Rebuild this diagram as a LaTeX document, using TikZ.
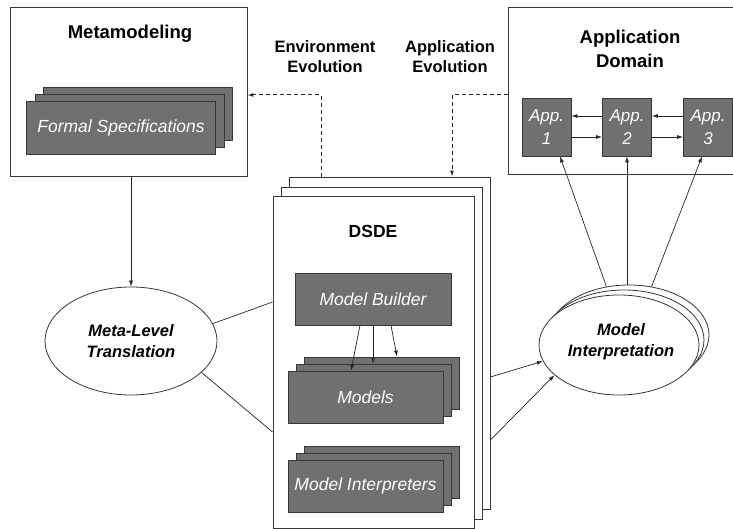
\documentclass[tikz,border=0pt]{standalone}
\usepackage{fontspec}
\setmainfont{Liberation Sans}
\usetikzlibrary{arrows.meta,shapes.geometric,calc}
\definecolor{boxgray}{RGB}{112,112,112}
\definecolor{linegray}{RGB}{55,55,55}
\begin{document}
\begin{tikzpicture}[x=1pt,y=-1pt,
  frame/.style={draw=linegray, line width=0.9pt, fill=white, inner sep=0pt},
  gbox/.style={draw=linegray, line width=0.8pt, fill=boxgray, inner sep=0pt, text=white,
    font=\fontsize{17.5}{21}\selectfont\itshape, align=center},
  appbox/.style={gbox, minimum width=49pt, minimum height=58pt, font=\fontsize{17}{23}\selectfont\itshape},
  title/.style={font=\fontsize{18.5}{24}\selectfont\bfseries, align=center, inner sep=0pt},
  evo/.style={font=\fontsize{16.5}{20}\selectfont\bfseries, align=center, inner sep=0pt},
  oval/.style={ellipse, draw=linegray, line width=0.8pt, fill=white, inner sep=0pt},
  ovaltext/.style={font=\fontsize{16.5}{21}\selectfont\bfseries\itshape, align=center, inner sep=0pt},
  conn/.style={draw=black!85, line width=0.7pt},
  arr/.style={conn, -{Latex[length=6pt,width=4pt]}},
  dasharr/.style={arr, dash pattern=on 4pt off 3pt, line width=1pt}
]
\useasboundingbox (0,0) rectangle (733,529);

% ---------------- Metamodeling ----------------
\node[frame, minimum width=237pt, minimum height=169pt] (meta) at (128.5,91.5) {};
\node[title] (metat) at (130,33.5) {Metamodeling};
\node[gbox, minimum width=189pt, minimum height=53pt] (fs3) at (138,114) {};
\node[gbox, minimum width=189pt, minimum height=53pt] (fs2) at (130,121) {};
\node[gbox, minimum width=189pt, minimum height=53pt] (fs1) at (121,128) {Formal Specifications};

% ---------------- Application Domain ----------------
\node[frame, minimum width=228pt, minimum height=167pt] (ad) at (622,90.5) {};
\node[title] (adt) at (630,49) {Application\\Domain};
\node[appbox] (app1) at (546.5,127) {App.\\1};
\node[appbox] (app2) at (627,127) {App.\\2};
\node[appbox] (app3) at (708,127) {App.\\3};

% ---------------- Evolution labels ----------------
\node[evo] (envevo) at (325,57) {Environment\\Evolution};
\node[evo] (appevo) at (450,57) {Application\\Evolution};

% ---------------- DSDE ----------------
\node[frame, minimum width=201pt, minimum height=332pt] (ds3) at (389.5,343) {};
\node[frame, minimum width=201pt, minimum height=332pt] (ds2) at (381.5,353) {};
\node[frame, minimum width=201pt, minimum height=332pt] (ds1) at (373.5,362) {};
\node[font=\fontsize{17.5}{21}\selectfont\bfseries, inner sep=0pt] (dsdet) at (373,231) {DSDE};

\node[gbox, minimum width=156pt, minimum height=52pt] (mb) at (373,299) {Model Builder};

\node[gbox, minimum width=155pt, minimum height=52pt] (mod3) at (381.5,383) {};
\node[gbox, minimum width=155pt, minimum height=52pt] (mod2) at (373.5,390) {};
\node[gbox, minimum width=155pt, minimum height=52pt] (mod1) at (365.5,397) {Models};

\node[gbox, minimum width=155pt, minimum height=52pt] (mi3) at (381.5,472) {};
\node[gbox, minimum width=155pt, minimum height=52pt] (mi2) at (373.5,479) {};
\node[gbox, minimum width=155pt, minimum height=52pt] (mi1) at (365.5,486) {Model Interpreters};

% ---------------- Ellipses ----------------
\node[oval, minimum width=172pt, minimum height=108pt] (mlt) at (131,341) {};
\node[ovaltext] (mltt) at (131,341.5) {Meta-Level\\Translation};

\node[oval, minimum width=160pt, minimum height=100pt] (mip3) at (629,335) {};
\node[oval, minimum width=160pt, minimum height=100pt] (mip2) at (624,340) {};
\node[oval, minimum width=160pt, minimum height=100pt] (mip1) at (619,345) {};
\node[ovaltext] (mipt) at (621,341.5) {Model\\Interpretation};

% ---------------- Connectors ----------------
% Metamodeling -> Meta-Level Translation
\draw[arr] (mlt.north |- meta.south) -- (mlt.north);
% Meta-Level Translation -- DSDE
\draw[conn] (mlt.12) -- (ds1.west |- 0,302);
\draw[conn] (mlt.-24) -- (ds1.west |- 0,432);
% DSDE -> Model Interpretation
\draw[arr] (ds3.east |- 0,377) -- (mip1.192);
\draw[arr] (ds3.east |- 0,440) -- (mip1.205);
% Model Interpretation -> Apps
\draw[arr] (mip3.115) -- (app1.south -| 560,0);
\draw[arr] (mip3.north -| app2.south) -- (app2.south);
\draw[arr] (mip3.65) -- (app3.south -| 702,0);
% Apps among themselves
\draw[arr] (app2.west |- 0,116) -- (app1.east |- 0,116);
\draw[arr] (app1.east |- 0,137) -- (app2.west |- 0,137);
\draw[arr] (app3.west |- 0,116) -- (app2.east |- 0,116);
\draw[arr] (app2.east |- 0,137) -- (app3.west |- 0,137);
% Model Builder -> Models
\draw[arr] (mb.south -| 360,0) -- (mod1.north -| 351,0);
\draw[arr] (mb.south -| 373,0) -- (mod2.north -| 373,0);
\draw[arr] (mb.south -| 391,0) -- (mod3.north -| 397,0);
% Evolution arrows
\draw[dasharr] (ds3.north -| 321,0) |- (meta.east |- 0,95);
\draw[dasharr] (ad.west |- 0,95) -| (ds3.north -| 452,0);
\end{tikzpicture}
\end{document}
